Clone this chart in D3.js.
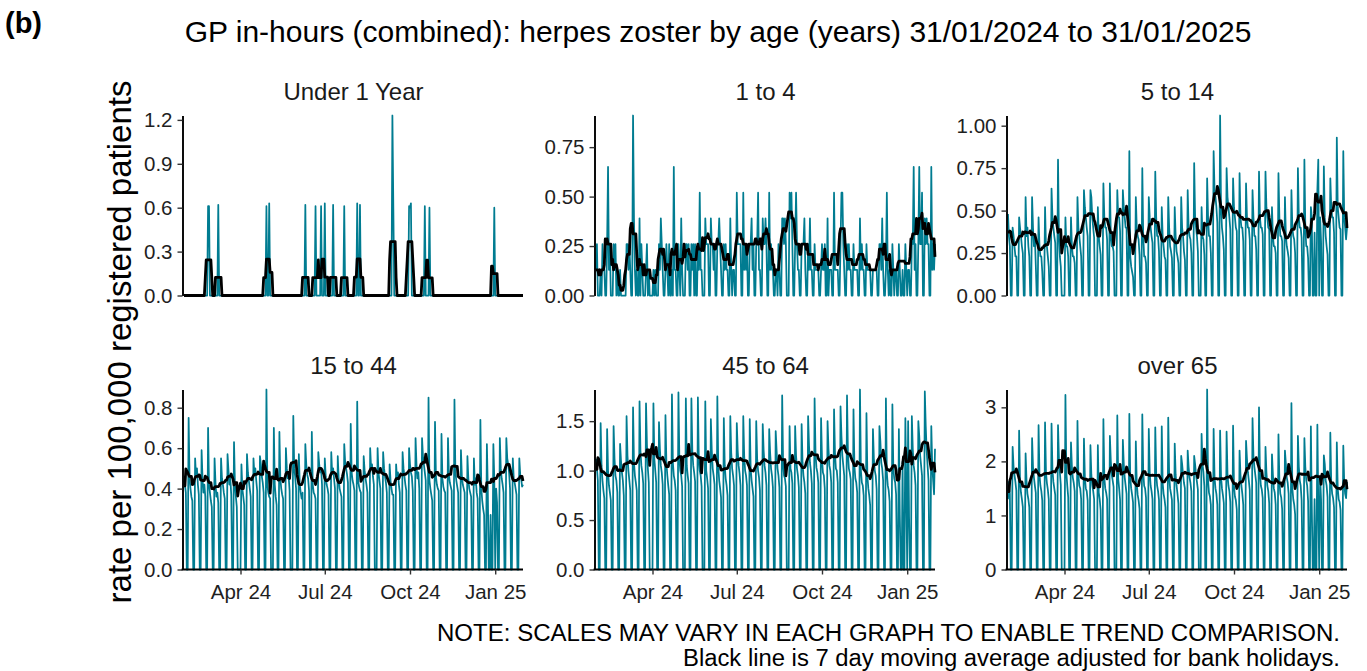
<!DOCTYPE html>
<html>
<head>
<meta charset="utf-8">
<script src="https://cdn.jsdelivr.net/npm/d3@7"></script>
<style>
  html, body { margin: 0; padding: 0; background: #ffffff; }
  svg text { font-family: "Liberation Sans", Arial, Helvetica, sans-serif; }
</style>
</head>
<body>
<svg id="chart" width="1367" height="671"></svg>
<script>
// ---- Data -----------------------------------------------------------------
// Daily consultation rates per 100,000 registered patients, one value per day
// from Wed 31/01/2024 to Fri 31/01/2025. Rows: first row Wed-Sun, then Mon-Sun.
const startDate = "2024-01-31";
const endDate = "2025-01-31";
const ageGroups = ["Under 1 Year", "1 to 4", "5 to 14", "15 to 44", "45 to 64", "over 65"];
const bankHolidays = ["2024-03-29", "2024-04-01", "2024-05-06", "2024-05-27",
                      "2024-08-26", "2024-12-25", "2024-12-26", "2025-01-01"];
const monthTicks = ["2024-04-01", "2024-07-01", "2024-10-01", "2025-01-01"];

const ticksUnder1 = [0, 0.3, 0.6, 0.9, 1.2];
const ticks1to4 = [0, 0.25, 0.5, 0.75];
const ticks5to14 = [0, 0.25, 0.5, 0.75, 1.0];
const ticks15to44 = [0, 0.2, 0.4, 0.6, 0.8];
const ticks45to64 = [0, 0.5, 1.0, 1.5];
const ticks65plus = [0, 1, 2, 3];

const rateUnder1 = [
  0,0,0,0,0,
  0,0,0,0,0,0,0,
  0,0,0,0,0,0,0,
  0,0,0,0,0,0,0,
  0.61,0.61,0,0,0,0,0,
  0,0,0,0,0.62,0,0,
  0,0,0,0,0,0,0,
  0,0,0,0,0,0,0,
  0,0,0,0,0,0,0,
  0,0,0,0,0,0,0,
  0,0,0,0,0,0,0,
  0,0,0,0,0,0,0,
  0,0,0,0,0,0,0,
  0.61,0,0,0.63,0,0,0,
  0,0,0,0,0,0,0,
  0,0,0,0,0,0,0,
  0,0,0,0,0,0,0,
  0,0,0,0,0,0,0,
  0,0,0,0,0,0,0,
  0.62,0,0,0,0,0,0,
  0,0,0,0,0.61,0,0,
  0,0,0,0.61,0,0,0,
  0.63,0,0,0,0,0,0,
  0,0,0.62,0,0,0,0,
  0,0,0,0,0,0,0,
  0.61,0,0,0,0,0,0,
  0,0,0,0,0,0,0,
  0.63,0,0,0.62,0,0,0,
  0,0,0,0,0,0,0,
  0,0,0,0,0,0,0,
  0,0,0,0,0,0,0,
  0,0,0,0,0,0,0,
  0,0,0,1.23,0.61,0,0,
  0,0,0,0,0,0,0,
  0,0,0,0,0,0,0,
  0.61,0.60,0.63,0,0,0,0,
  0,0,0,0,0,0,0,
  0,0,0,0.61,0,0,0,
  0,0.60,0,0,0,0,0,
  0,0,0,0,0,0,0,
  0,0,0,0,0,0,0,
  0,0,0,0,0,0,0,
  0,0,0,0,0,0,0,
  0,0,0,0,0,0,0,
  0,0,0,0,0,0,0,
  0,0,0,0,0,0,0,
  0,0,0,0,0,0,0,
  0,0,0,0,0,0,0,
  0,0.60,0,0,0,0,0,
  0,0,0,0,0,0,0,
  0,0,0,0,0,0,0,
  0,0,0,0,0,0,0,
  0,0,0,0,0
];

const rate1to4 = [
  0.13,0.26,0,0,0,
  0.13,0,0.26,0.13,0.13,0,0,
  0.26,0.65,0.13,0.26,0,0,0,
  0.26,0.13,0.26,0,0.13,0,0,
  0.13,0,0,0,0,0,0,
  0.26,0.26,0.13,0.26,0.13,0,0,
  0.91,0.39,0.13,0,0.13,0,0,
  0.39,0,0.26,0.13,0,0,0,
  0.13,0.26,0,0.13,0,0,0,
  0,0.13,0,0.13,0,0,0,
  0.26,0.13,0.39,0.26,0.13,0,0,
  0.13,0.26,0.13,0,0.26,0,0,
  0.13,0,0.65,0.13,0.13,0,0,
  0.26,0.13,0,0.39,0.13,0,0,
  0,0.26,0.26,0.13,0.26,0,0,
  0.26,0.13,0.26,0,0.26,0,0,
  0.26,0.13,0.52,0.13,0.13,0,0,
  0,0.39,0.26,0.26,0.26,0,0,
  0.39,0.26,0.26,0.13,0.26,0,0,
  0.26,0.26,0.39,0.26,0.13,0,0,
  0.26,0.13,0.26,0.13,0.13,0,0,
  0.39,0.13,0,0.13,0.13,0,0,
  0.52,0.26,0.26,0.26,0.26,0,0,
  0.52,0.13,0.26,0.13,0.26,0,0,
  0.26,0.26,0.39,0.13,0.26,0,0,
  0.26,0.26,0.52,0.13,0.13,0,0,
  0.39,0.26,0.26,0.39,0.26,0,0,
  0.52,0.13,0.26,0.13,0.13,0,0,
  0.13,0.13,0,0.26,0.13,0,0,
  0.39,0.39,0.26,0.39,0.26,0,0,
  0,0.52,0.39,0.52,0.26,0,0,
  0.26,0.52,0.26,0.13,0.13,0,0,
  0.26,0.26,0.26,0.39,0.13,0,0,
  0.26,0.13,0.39,0.13,0.13,0,0,
  0.26,0.13,0.13,0.13,0.13,0,0,
  0.13,0.26,0.13,0.13,0.26,0,0,
  0.39,0,0.13,0.13,0.13,0,0,
  0.52,0.13,0.13,0.13,0.13,0,0,
  0.26,0.52,0.52,0.26,0.13,0,0,
  0.26,0.13,0.26,0.13,0.13,0,0,
  0.26,0.13,0.13,0.13,0.13,0,0,
  0.39,0.13,0.26,0.13,0.13,0,0,
  0.26,0.13,0.13,0.13,0.13,0,0,
  0.13,0.13,0.13,0.13,0.13,0,0,
  0.26,0.26,0.13,0.39,0.13,0,0,
  0.13,0.52,0.13,0,0.13,0,0,
  0.26,0.13,0,0.13,0.13,0,0,
  0.26,0.13,0,0,0.13,0,0,
  0.26,0.13,0,0.13,0.13,0,0,
  0.26,0.26,0.65,0.13,0.26,0,0,
  0.26,0.65,0.26,0.26,0.52,0,0,
  0.39,0.26,0.39,0.26,0.26,0,0,
  0.65,0.13,0.26,0.13,0.26
];

const rate5to14 = [
  0.48,0.35,0.29,0,0,
  0.40,0.35,0.29,0.23,0.23,0,0,
  0.46,0.40,0.35,0.29,0.25,0,0,
  0.58,0.35,0.40,0.29,0.23,0,0,
  0.58,0.40,0.29,0.35,0.18,0,0,
  0.46,0.29,0.23,0.23,0.14,0,0,
  0.52,0.29,0.29,0.23,0.17,0,0,
  0.63,0.46,0.40,0.35,0.31,0,0,
  0.80,0.35,0.23,0.17,0,0,0,
  0,0.46,0.29,0.29,0.23,0,0,
  0.46,0.29,0.23,0.23,0.19,0,0,
  0.58,0.40,0.35,0.29,0.23,0,0,
  0.62,0.52,0.46,0.40,0.35,0,0,
  0.62,0.58,0.46,0.40,0.34,0,0,
  0,0.52,0.35,0.29,0.24,0,0,
  0.66,0.46,0.40,0.40,0.33,0,0,
  0.66,0.35,0.29,0.29,0.26,0,0,
  0,0.62,0.46,0.46,0.38,0,0,
  0.62,0.52,0.46,0.40,0.40,0,0,
  0.85,0.23,0.17,0.14,0.11,0,0,
  0.58,0.40,0.35,0.33,0.24,0,0,
  0.75,0.35,0.23,0.23,0.19,0,0,
  0.58,0.46,0.40,0.35,0.31,0,0,
  0.73,0.46,0.35,0.35,0.26,0,0,
  0.52,0.35,0.29,0.23,0.21,0,0,
  0.58,0.40,0.29,0.26,0.22,0,0,
  0.52,0.35,0.26,0.23,0.19,0,0,
  0.58,0.40,0.35,0.26,0.21,0,0,
  0.62,0.40,0.35,0.33,0.25,0,0,
  0.78,0.46,0.40,0.35,0.26,0,0,
  0,0.52,0.35,0.33,0.24,0,0,
  0.69,0.46,0.35,0.35,0.25,0,0,
  0.85,0.62,0.58,0.52,0.43,0,0,
  1.06,0.52,0.40,0.35,0.27,0,0,
  0.75,0.58,0.52,0.46,0.39,0,0,
  0.69,0.52,0.46,0.40,0.38,0,0,
  0.72,0.46,0.40,0.40,0.32,0,0,
  0.66,0.46,0.40,0.40,0.33,0,0,
  0.62,0.46,0.35,0.35,0.27,0,0,
  0.73,0.46,0.40,0.40,0.36,0,0,
  0.73,0.52,0.46,0.40,0.39,0,0,
  0.52,0.35,0.29,0.29,0.25,0,0,
  0.72,0.46,0.35,0.35,0.32,0,0,
  0.58,0.35,0.29,0.26,0.22,0,0,
  0.62,0.40,0.35,0.33,0.25,0,0,
  0.75,0.46,0.40,0.40,0.34,0,0,
  0.80,0.40,0.29,0.29,0.22,0,0,
  0.52,0.46,0,0,0.37,0,0,
  0.62,0.80,0,0.46,0.32,0,0,
  0.76,0.46,0.35,0.29,0.24,0,0,
  0.69,0.52,0.46,0.46,0.37,0,0,
  0.93,0.52,0.46,0.40,0.39,0,0,
  0.85,0.46,0.40,0.33,0.40
];

const rate15to44 = [
  0.44,0.42,0.38,0,0,
  0.75,0.45,0.40,0.36,0.34,0,0,
  0.55,0.46,0.50,0.42,0.37,0,0,
  0.59,0.45,0.38,0.42,0.36,0,0,
  0.70,0.42,0.38,0.34,0.31,0,0,
  0.55,0.43,0.36,0.38,0.33,0,0,
  0.55,0.45,0.42,0.38,0.35,0,0,
  0.57,0.49,0.42,0.45,0.37,0,0,
  0.63,0.42,0.36,0.31,0,0,0,
  0,0.52,0.40,0.36,0.32,0,0,
  0.57,0.48,0.44,0.40,0.36,0,0,
  0.55,0.47,0.50,0.44,0.39,0,0,
  0.56,0.52,0.46,0.43,0.38,0,0,
  0.89,0.42,0.38,0.36,0.35,0,0,
  0,0.70,0.42,0.36,0.32,0,0,
  0.68,0.45,0.40,0.37,0.35,0,0,
  0.60,0.50,0.45,0.46,0.39,0,0,
  0,0.76,0.50,0.46,0.40,0,0,
  0.57,0.42,0.38,0.35,0.38,0,0,
  0.62,0.52,0.47,0.45,0.39,0,0,
  0.68,0.42,0.38,0.37,0.35,0,0,
  0.58,0.52,0.48,0.50,0.42,0,0,
  0.55,0.46,0.42,0.40,0.37,0,0,
  0.58,0.47,0.50,0.45,0.40,0,0,
  0.56,0.45,0.40,0.38,0.36,0,0,
  0.62,0.53,0.50,0.47,0.43,0,0,
  0.72,0.48,0.44,0.42,0.39,0,0,
  0.83,0.44,0.41,0.39,0.38,0,0,
  0.56,0.49,0.45,0.42,0.38,0,0,
  0.60,0.50,0.52,0.46,0.42,0,0,
  0,0.60,0.48,0.44,0.40,0,0,
  0.58,0.50,0.46,0.43,0.38,0,0,
  0.52,0.44,0.40,0.37,0.37,0,0,
  0.52,0.45,0.48,0.42,0.38,0,0,
  0.58,0.50,0.46,0.42,0.39,0,0,
  0.60,0.52,0.48,0.46,0.39,0,0,
  0.65,0.52,0.45,0.48,0.40,0,0,
  0.65,0.56,0.52,0.48,0.44,0,0,
  0.85,0.44,0.40,0.37,0.34,0,0,
  0.73,0.46,0.42,0.40,0.39,0,0,
  0.67,0.45,0.41,0.39,0.38,0,0,
  0.65,0.47,0.43,0.41,0.39,0,0,
  0.84,0.48,0.44,0.41,0.38,0,0,
  0.59,0.46,0.42,0.40,0.38,0,0,
  0.56,0.45,0.40,0.38,0.36,0,0,
  0.55,0.42,0.45,0.38,0.35,0,0,
  0.74,0.40,0.34,0.30,0.27,0,0,
  0.62,0.40,0,0,0.27,0,0,
  0.62,0.45,0,0.40,0.33,0,0,
  0.65,0.50,0.45,0.42,0.38,0,0,
  0.65,0.55,0.52,0.48,0.40,0,0,
  0.55,0.45,0.43,0.40,0.37,0,0,
  0.55,0.47,0.45,0.41,0.42
];

const rate45to64 = [
  1.12,1.02,0.90,0,0,
  1.48,1.05,0.90,0.80,0.72,0,0,
  1.42,1.00,0.85,0.78,0.70,0,0,
  1.45,1.12,0.95,0.90,0.78,0,0,
  1.27,1.10,0.98,0.90,0.75,0,0,
  1.55,1.15,1.00,0.90,0.80,0,0,
  1.64,1.08,0.95,0.88,0.80,0,0,
  1.70,1.20,1.05,0.98,0.87,0,0,
  1.68,1.26,1.02,0.88,0,0,0,
  0,1.68,1.12,1.00,0.88,0,0,
  1.49,1.22,1.05,0.98,0.86,0,0,
  1.56,1.08,0.95,0.85,0.76,0,0,
  1.77,1.08,0.95,0.90,0.80,0,0,
  1.79,1.12,1.00,0.95,0.84,0,0,
  0,1.73,1.05,0.95,0.87,0,0,
  1.73,1.20,1.05,0.98,0.89,0,0,
  1.74,1.12,1.00,0.95,0.84,0,0,
  0,1.70,1.00,0.92,0.82,0,0,
  1.52,1.20,1.02,0.95,0.86,0,0,
  1.75,1.05,0.90,0.82,0.73,0,0,
  1.53,1.05,0.92,0.85,0.75,0,0,
  1.55,1.18,1.02,0.95,0.85,0,0,
  1.48,1.20,1.05,0.97,0.85,0,0,
  1.55,1.15,1.00,0.95,0.85,0,0,
  1.52,1.02,0.90,0.82,0.74,0,0,
  1.50,1.12,1.00,0.93,0.80,0,0,
  1.47,1.20,1.05,0.98,0.85,0,0,
  1.42,1.18,1.02,0.95,0.83,0,0,
  1.40,1.20,1.02,0.95,0.83,0,0,
  1.76,1.08,0.95,0.92,0.84,0,0,
  0,1.45,1.02,0.98,0.87,0,0,
  1.45,1.15,1.02,0.95,0.83,0,0,
  1.47,1.08,0.95,0.88,0.77,0,0,
  1.55,1.25,1.08,1.00,0.87,0,0,
  1.73,1.18,1.03,0.98,0.88,0,0,
  1.53,1.12,0.98,0.95,0.82,0,0,
  1.50,1.22,1.05,1.00,0.88,0,0,
  1.62,1.18,1.02,1.00,0.88,0,0,
  1.65,1.35,1.15,1.05,0.95,0,0,
  1.76,1.18,1.02,0.98,0.91,0,0,
  1.62,1.05,0.92,0.88,0.78,0,0,
  1.82,1.00,0.88,0.85,0.75,0,0,
  1.58,0.95,0.82,0.75,0.65,0,0,
  1.42,1.12,1.00,0.95,0.81,0,0,
  1.45,1.30,1.08,1.02,0.90,0,0,
  1.73,0.98,0.85,0.80,0.69,0,0,
  1.67,1.02,0.92,0.88,0.76,0,0,
  1.42,0.55,0,0,1.09,0,0,
  1.53,0.80,0,1.50,0.53,0,0,
  1.55,1.22,1.05,0.98,0.85,0,0,
  1.50,1.35,1.15,1.05,0.95,0,0,
  1.80,1.45,1.20,1.05,0.90,0,0,
  1.45,1.05,0.90,0.76,1.22
];

const rate65plus = [
  1.30,1.62,1.40,0,0,
  2.27,1.90,1.75,1.62,1.46,0,0,
  2.57,1.65,1.42,1.30,1.16,0,0,
  2.15,1.65,1.40,1.30,1.15,0,0,
  2.43,1.90,1.70,1.55,1.42,0,0,
  2.67,1.75,1.55,1.45,1.28,0,0,
  2.72,1.80,1.60,1.48,1.30,0,0,
  2.70,1.85,1.62,1.50,1.38,0,0,
  2.67,2.05,1.80,1.56,0,0,0,
  0,3.23,1.80,1.55,1.34,0,0,
  2.35,1.90,1.70,1.60,1.45,0,0,
  2.75,1.75,1.55,1.50,1.30,0,0,
  2.42,1.70,1.50,1.45,1.28,0,0,
  2.30,1.75,1.55,1.45,1.30,0,0,
  0,2.30,1.42,1.30,1.10,0,0,
  2.78,1.70,1.50,1.42,1.30,0,0,
  2.47,2.00,1.75,1.65,1.53,0,0,
  0,2.85,1.68,1.50,1.29,0,0,
  2.40,1.95,1.70,1.55,1.40,0,0,
  2.88,1.70,1.50,1.38,1.24,0,0,
  2.37,1.60,1.38,1.28,1.12,0,0,
  2.87,1.80,1.55,1.50,1.33,0,0,
  2.60,1.80,1.55,1.45,1.30,0,0,
  2.63,1.78,1.55,1.45,1.29,0,0,
  2.65,1.60,1.40,1.30,1.15,0,0,
  2.81,1.75,1.50,1.40,1.29,0,0,
  2.33,1.75,1.55,1.40,1.22,0,0,
  2.10,1.95,1.75,1.60,1.50,0,0,
  2.20,1.90,1.70,1.60,1.45,0,0,
  2.10,1.95,1.75,1.62,1.48,0,0,
  0,2.51,1.95,1.80,1.54,0,0,
  3.33,1.65,1.42,1.35,1.20,0,0,
  2.60,1.70,1.50,1.40,1.20,0,0,
  2.57,1.72,1.50,1.38,1.23,0,0,
  2.55,1.75,1.55,1.45,1.25,0,0,
  2.66,1.55,1.35,1.28,1.11,0,0,
  2.20,1.75,1.55,1.40,1.20,0,0,
  2.38,2.05,1.80,1.65,1.47,0,0,
  2.80,2.10,1.90,1.75,1.60,0,0,
  3.00,1.80,1.55,1.48,1.32,0,0,
  2.27,1.80,1.55,1.45,1.23,0,0,
  2.13,1.75,1.50,1.42,1.20,0,0,
  2.50,1.65,1.40,1.33,1.12,0,0,
  2.20,1.95,1.70,1.60,1.40,0,0,
  3.08,1.50,1.30,1.20,1.02,0,0,
  2.47,1.90,1.65,1.55,1.28,0,0,
  2.43,1.90,1.65,1.55,1.27,0,0,
  2.65,1.15,0,0,1.30,0,0,
  2.68,1.20,0,1.70,1.30,0,0,
  2.11,1.95,1.65,1.55,1.34,0,0,
  2.53,1.60,1.40,1.32,1.15,0,0,
  2.35,1.50,1.30,1.25,1.10,0,0,
  2.29,1.60,1.40,1.32,1.62
];

// ---- Panel definitions ----------------------------------------------------
const panels = [
  { title: ageGroups[0], values: rateUnder1, ticks: ticksUnder1, fmt: ".1f" },
  { title: ageGroups[1], values: rate1to4,   ticks: ticks1to4,   fmt: ".2f" },
  { title: ageGroups[2], values: rate5to14,  ticks: ticks5to14,  fmt: ".2f" },
  { title: ageGroups[3], values: rate15to44, ticks: ticks15to44, fmt: ".1f" },
  { title: ageGroups[4], values: rate45to64, ticks: ticks45to64, fmt: ".1f" },
  { title: ageGroups[5], values: rate65plus, ticks: ticks65plus, fmt: "d" }
];

const parseDay = d3.utcParse("%Y-%m-%d");
const fmtDay = d3.utcFormat("%Y-%m-%d");
const day0 = parseDay(startDate);
const dayN = parseDay(endDate);
const holidaySet = new Set(bankHolidays);

const nDays = rateUnder1.length;
const dates = d3.range(nDays).map(i => d3.utcDay.offset(day0, i));
const working = dates.map(d => {
  const wd = d.getUTCDay();
  return wd !== 0 && wd !== 6 && !holidaySet.has(fmtDay(d));
});

// Centred 7-day moving average, divided by the number of working days in
// the window so that weekends and bank holidays do not pull it down.
function movingAverage(values) {
  return values.map((_, i) => {
    let s = 0, n = 0;
    for (let k = i - 3; k <= i + 3; k++) {
      if (k < 0 || k >= values.length) continue;
      s += values[k];
      if (working[k]) n++;
    }
    return n ? s / n : 0;
  });
}

// ---- Layout ---------------------------------------------------------------
const svg = d3.select("#chart");
const colLeft = [184, 596, 1008];
const plotW = 339;
const rowTop = [115.5, 389.5];
const plotH = 180;
const teal = "#007C91";

svg.append("rect").attr("width", 1367).attr("height", 671).attr("fill", "#ffffff");

panels.forEach((p, idx) => {
  const col = idx % 3, row = Math.floor(idx / 3);
  const x0 = colLeft[col], top = rowTop[row], bottom = top + plotH;

  const x = d3.scaleUtc().domain([day0, dayN]).range([x0, x0 + plotW]);
  const y = d3.scaleLinear().domain([0, d3.max(p.values)]).range([bottom, top]);

  const ma = movingAverage(p.values);
  const g = svg.append("g");

  const line = d3.line()
    .x((d, i) => x(dates[i]))
    .y(d => y(d));

  g.append("path")
    .datum(p.values)
    .attr("d", line)
    .attr("fill", "none")
    .attr("stroke", teal)
    .attr("stroke-width", 1.75)
    .attr("stroke-linejoin", "round");

  g.append("path")
    .datum(ma)
    .attr("d", line)
    .attr("fill", "none")
    .attr("stroke", "#000000")
    .attr("stroke-width", 2.8)
    .attr("stroke-linejoin", "round");

  // y axis
  const yAxis = d3.axisLeft(y)
    .tickValues(p.ticks)
    .tickFormat(d3.format(p.fmt))
    .tickSize(5)
    .tickPadding(5)
    .tickSizeOuter(0);
  const ga = g.append("g")
    .attr("transform", `translate(${x0 - 1.5},0)`)
    .call(yAxis);
  ga.attr("font-size", null).attr("font-family", null);
  ga.select(".domain").attr("stroke", "#000").attr("stroke-width", 1.9);
  ga.selectAll(".tick line").attr("stroke", "#333").attr("stroke-width", 1.4);
  ga.selectAll(".tick text").attr("fill", "#1f1f1f").style("font-size", "20.5px");

  // x axis on the bottom row only
  if (row === 1) {
    const xAxis = d3.axisBottom(x)
      .tickValues(monthTicks.map(parseDay))
      .tickFormat(d3.utcFormat("%b %y"))
      .tickSize(5)
      .tickPadding(10)
      .tickSizeOuter(0);
    const gx = g.append("g")
      .attr("transform", `translate(0,${bottom})`)
      .call(xAxis);
    gx.attr("font-size", null).attr("font-family", null);
    gx.select(".domain")
      .attr("d", `M${x0 - 2.4},0H${x0 + plotW}`)
      .attr("stroke", "#000").attr("stroke-width", 1.9);
    gx.selectAll(".tick line").attr("stroke", "#333").attr("stroke-width", 1.4);
    gx.selectAll(".tick text").attr("fill", "#1f1f1f").style("font-size", "20.5px");
  }

  // strip title
  g.append("text")
    .attr("x", x0 + plotW / 2)
    .attr("y", top - 16)
    .attr("text-anchor", "middle")
    .attr("fill", "#1a1a1a")
    .style("font-size", "24px")
    .text(p.title);
});

// ---- Titles and notes -----------------------------------------------------
svg.append("text")
  .attr("x", 5).attr("y", 33)
  .style("font-size", "29px").style("font-weight", "bold")
  .attr("fill", "#000")
  .text("(b)");

svg.append("text")
  .attr("x", 718).attr("y", 42)
  .attr("text-anchor", "middle")
  .style("font-size", "30px")
  .attr("fill", "#000")
  .text("GP in-hours (combined): herpes zoster by age (years) 31/01/2024 to 31/01/2025");

svg.append("text")
  .attr("transform", "translate(119,342) rotate(-90)")
  .attr("text-anchor", "middle")
  .attr("dy", "0.35em")
  .style("font-size", "33px")
  .attr("fill", "#000")
  .text("rate per 100,000 registered patients");

const noteFont = '"Liberation Sans Narrow", "Arial Narrow", "Liberation Sans", sans-serif';
svg.append("text")
  .attr("x", 1340).attr("y", 641)
  .attr("text-anchor", "end")
  .attr("textLength", 903).attr("lengthAdjust", "spacingAndGlyphs")
  .style("font-family", noteFont).style("font-size", "23.5px")
  .attr("fill", "#000")
  .text("NOTE: SCALES MAY VARY IN EACH GRAPH TO ENABLE TREND COMPARISON.");

svg.append("text")
  .attr("x", 1340).attr("y", 666)
  .attr("text-anchor", "end")
  .attr("textLength", 657).attr("lengthAdjust", "spacingAndGlyphs")
  .style("font-family", noteFont).style("font-size", "23.5px")
  .attr("fill", "#000")
  .text("Black line is 7 day moving average adjusted for bank holidays.");
</script>
</body>
</html>
